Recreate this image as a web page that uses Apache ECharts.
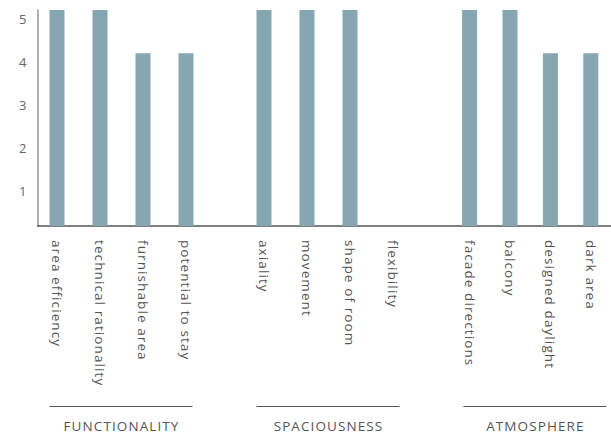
<!DOCTYPE html>
<html>
<head>
<meta charset="utf-8">
<style>
    html, body { margin: 0; padding: 0; background: #fff; }
    #chart { width: 611px; height: 439px; }
    #chart svg text { letter-spacing: 1.1px; }
</style>
<script src="https://cdn.jsdelivr.net/npm/echarts@6/dist/echarts.min.js"></script>
</head>
<body>
<div id="chart"></div>
<script>
// 数据
var groupNames = ['FUNCTIONALITY', 'SPACIOUSNESS', 'ATMOSPHERE'];
var functionalityCats = ['area efficiency', 'technical rationality', 'furnishable area', 'potential to stay'];
var functionalityVals = [5, 5, 4, 4];
var spaciousnessCats = ['axiality', 'movement', 'shape of room', 'flexibility'];
var spaciousnessVals = [5, 5, 5, 0];
var atmosphereCats = ['facade directions', 'balcony', 'designed daylight', 'dark area'];
var atmosphereVals = [5, 5, 4, 4];
var yTicks = [1, 2, 3, 4, 5];

var barColor = '#86a6b2';
var textColor = '#555';
var font = '"Open Sans", "Noto Sans", sans-serif';
var gridTop = 10, gridBottom = 213;
var groupLefts = [35.5, 242.5, 449.4];
var groupWidth = 172;

var cats = [functionalityCats, spaciousnessCats, atmosphereCats];
var vals = [functionalityVals, spaciousnessVals, atmosphereVals];

var grids = [{ left: 37.5, right: 0, top: gridTop, bottom: gridBottom }];
var xAxes = [{
    gridIndex: 0,
    type: 'category',
    data: [''],
    axisLine: { lineStyle: { color: '#555', width: 1.5 } },
    axisTick: { show: false },
    axisLabel: { show: false }
}];
var yAxes = [{
    gridIndex: 0,
    type: 'value',
    min: 0,
    max: 5,
    interval: 1,
    axisLine: { show: true, lineStyle: { color: '#999', width: 1.5 } },
    axisTick: { show: false },
    splitLine: { show: false },
    axisLabel: {
        color: '#666',
        fontSize: 13,
        fontFamily: font,
        margin: 10,
        verticalAlign: 'top',
        padding: [2, 0, 0, 0],
        formatter: function (v) {
            return yTicks.indexOf(v) > -1 ? String(v) : '';
        }
    }
}];
var series = [];
var graphics = [];

for (var i = 0; i < 3; i++) {
    grids.push({ left: groupLefts[i], width: groupWidth, top: gridTop, bottom: gridBottom });
    xAxes.push({
        gridIndex: i + 1,
        type: 'category',
        data: cats[i],
        axisLine: { show: false },
        axisTick: { show: false },
        axisLabel: {
            rotate: -90,
            interval: 0,
            margin: 14,
            color: textColor,
            fontSize: 13.5,
            fontFamily: font
        }
    });
    yAxes.push({
        gridIndex: i + 1,
        type: 'value',
        min: 0,
        max: 5,
        show: false
    });
    series.push({
        type: 'bar',
        xAxisIndex: i + 1,
        yAxisIndex: i + 1,
        data: vals[i],
        barWidth: 15,
        itemStyle: { color: barColor },
        silent: true
    });
    var cx = groupLefts[i] + 14 + 143 / 2;
    graphics.push({
        type: 'line',
        shape: { x1: cx - 71.5, y1: 406.5, x2: cx + 71.5, y2: 406.5 },
        style: { stroke: '#555', lineWidth: 1 }
    });
    graphics.push({
        type: 'text',
        x: cx + 0.5,
        y: 426,
        style: {
            text: groupNames[i],
            fill: textColor,
            font: '13.5px ' + font,
            align: 'center',
            verticalAlign: 'middle'
        }
    });
}

var option = {
    animation: false,
    grid: grids,
    xAxis: xAxes,
    yAxis: yAxes,
    series: series,
    graphic: graphics
};

var chart = echarts.init(document.getElementById('chart'), null, { renderer: 'svg' });
chart.setOption(option);
</script>
</body>
</html>
